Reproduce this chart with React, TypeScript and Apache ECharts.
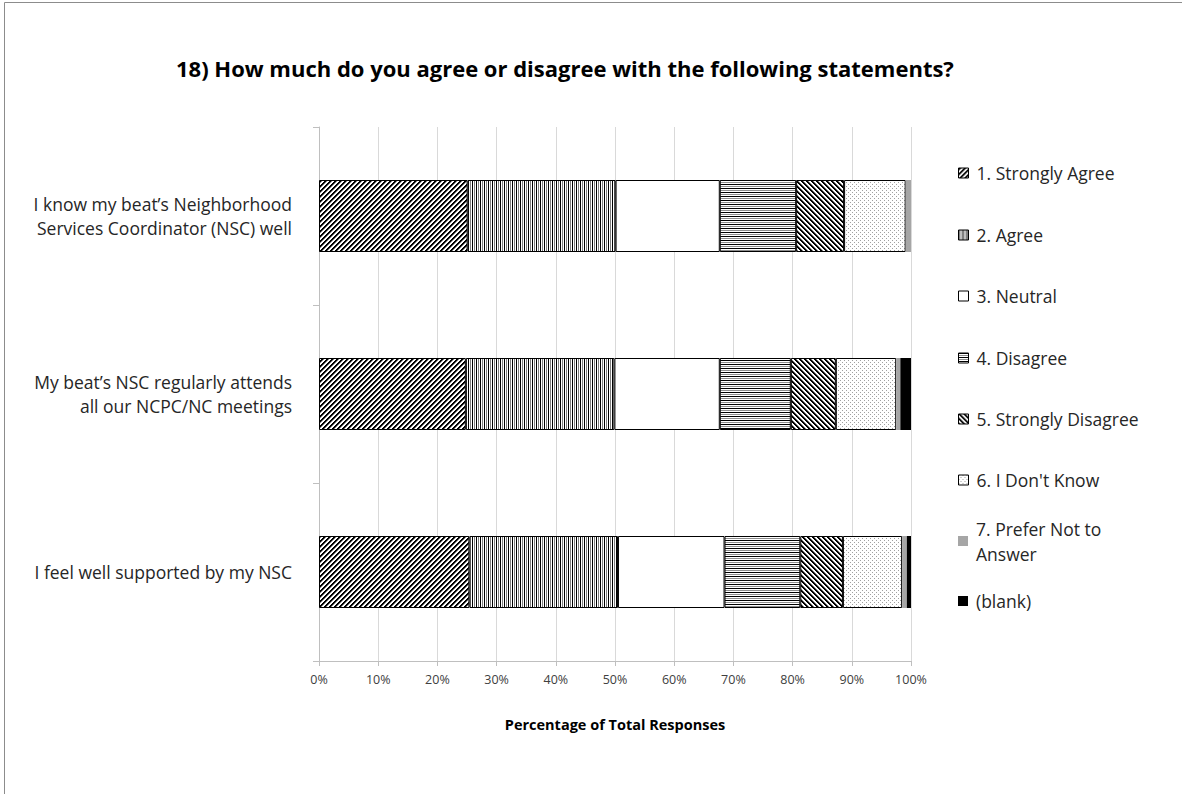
import { useEffect, useRef } from "react";
import * as echarts from "echarts";

const categories = [
  "I know my beat’s Neighborhood\nServices Coordinator (NSC) well",
  "My beat’s NSC regularly attends\nall our NCPC/NC meetings",
  "I feel well supported by my NSC",
];
const seriesNames = [
  "1. Strongly Agree",
  "2. Agree",
  "3. Neutral",
  "4. Disagree",
  "5. Strongly Disagree",
  "6. I Don't Know",
  "7. Prefer Not to Answer",
  "(blank)",
];
const stronglyAgree = [25.1, 24.8, 25.4];
const agree = [25.0, 25.1, 25.1];
const neutral = [17.6, 17.8, 18.0];
const disagree = [12.9, 12.0, 12.8];
const stronglyDisagree = [8.1, 7.6, 7.2];
const dontKnow = [10.4, 10.2, 10.0];
const preferNot = [0.9, 0.7, 0.8];
const blank = [0, 1.8, 0.7];
const seriesValues = [stronglyAgree, agree, neutral, disagree, stronglyDisagree, dontKnow, preferNot, blank];
const legendLabels = [
  "1. Strongly Agree",
  "2. Agree",
  "3. Neutral",
  "4. Disagree",
  "5. Strongly Disagree",
  "6. I Don't Know",
  "7. Prefer Not to\nAnswer",
  "(blank)",
];

const FONT = "Open Sans";
const legendCenters = [173, 235, 296, 358, 419, 480, 541, 601];

function makePattern(size: number, fn: (x: number, y: number) => string | null) {
  const c = document.createElement("canvas");
  c.width = size;
  c.height = size;
  const ctx = c.getContext("2d")!;
  ctx.fillStyle = "#ffffff";
  ctx.fillRect(0, 0, size, size);
  for (let y = 0; y < size; y++) {
    for (let x = 0; x < size; x++) {
      const col = fn(x, y);
      if (col) {
        ctx.fillStyle = col;
        ctx.fillRect(x, y, 1, 1);
      }
    }
  }
  return { image: c, repeat: "repeat" };
}

export default function App() {
  const ref = useRef<HTMLDivElement>(null);
  useEffect(() => {
    document.body.style.margin = "0";
    const chart = echarts.init(ref.current!, null, { renderer: "svg" });

    const diag = (k: number) => (k < 2 ? "#000" : k === 2 ? "#808080" : null);
    const fills: any[] = [
      makePattern(5, (x, y) => diag((x + y) % 5)),
      makePattern(4, (x) => (x === 0 ? "#000" : x === 2 ? "#7f7f7f" : null)),
      "#ffffff",
      makePattern(4, (_x, y) => (y === 0 ? "#000" : y === 2 ? "#8c8c8c" : null)),
      makePattern(5, (x, y) => diag((x - y + 50) % 5)),
      makePattern(4, (x, y) => ((x === 0 && y === 0) || (x === 2 && y === 2) ? "#a0a0a0" : null)),
      "#a6a6a6",
      "#000000",
    ];
    const borders = ["#000", "#000", "#000", "#000", "#000", "#000", "#a6a6a6", "#000"];

    const series = seriesNames.map((name, i) => ({
      name,
      type: "bar",
      stack: "total",
      barWidth: 72,
      data: seriesValues[i],
      itemStyle: {
        color: fills[i],
        borderColor: borders[i],
        borderWidth: i >= 6 ? 0 : 1,
      },
    }));

    const legend = seriesNames.map((name, i) => ({
      data: [name],
      orient: "vertical",
      left: 958,
      top: i === 6 ? legendCenters[i] - 37.5 : legendCenters[i] - 12.5,
      icon: "rect",
      itemWidth: 10,
      itemHeight: 10,
      padding: 0,
      selectedMode: false,
      formatter: () => legendLabels[i],
      itemStyle: { borderWidth: i >= 6 ? 0 : 1 },
      textStyle: {
        fontFamily: FONT,
        fontSize: 17.5,
        color: "#262626",
        lineHeight: 25,
        padding: i === 6 ? [25, 0, 0, 3] : [0, 0, 0, 3],
      },
    }));

    chart.setOption({
      animation: false,
      backgroundColor: "#ffffff",
      title: {
        text: "18) How much do you agree or disagree with the following statements?",
        left: 176,
        top: 57,
        padding: 0,
        textStyle: { fontFamily: FONT, fontSize: 22, fontWeight: "bold", color: "#000" },
      },
      legend,
      grid: { left: 319, right: 271, top: 127, bottom: 133, containLabel: false },
      xAxis: {
        type: "value",
        min: 0,
        max: 100,
        interval: 10,
        axisLabel: { formatter: "{value}%", fontFamily: FONT, fontSize: 12.5, color: "#404040", margin: 12 },
        axisLine: { show: true, lineStyle: { color: "#bfbfbf" } },
        axisTick: { show: true, length: 5, lineStyle: { color: "#bfbfbf" } },
        splitLine: { show: true, lineStyle: { color: "#d9d9d9" } },
        name: "Percentage of Total Responses",
        nameLocation: "middle",
        nameGap: 56,
        nameTextStyle: { fontFamily: FONT, fontSize: 14.5, fontWeight: "bold", color: "#000" },
      },
      yAxis: {
        type: "category",
        inverse: true,
        data: categories,
        axisLine: { show: true, lineStyle: { color: "#bfbfbf" } },
        axisTick: { show: true, length: 6, lineStyle: { color: "#bfbfbf" } },
        axisLabel: { fontFamily: FONT, fontSize: 17.5, lineHeight: 24, color: "#262626", margin: 27 },
      },
      series,
      graphic: [
        {
          type: "rect",
          shape: { x: 4.5, y: 2.5, width: 1300, height: 1000 },
          style: { fill: "none", stroke: "#8c8c8c", lineWidth: 1 },
          silent: true,
        },
      ],
    });
    return () => chart.dispose();
  }, []);
  return <div ref={ref} style={{ width: 1182, height: 794 }} />;
}
